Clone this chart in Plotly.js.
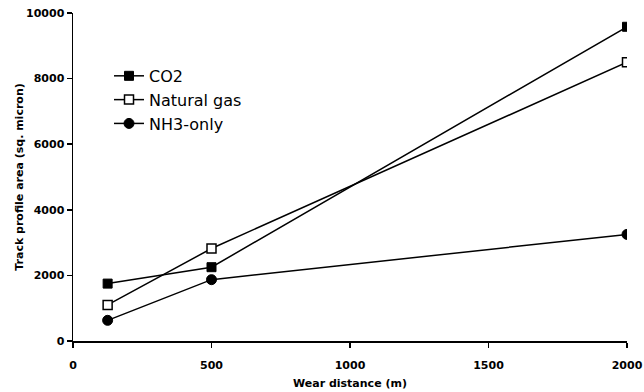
<!DOCTYPE html>
<html>
<head>
<meta charset="utf-8">
<script src="https://cdn.plot.ly/plotly-3.0.1.min.js"></script>
<style>html,body{margin:0;padding:0;background:#fff;}#chart{width:644px;height:392px;}</style>
</head>
<body>
<div id="chart"></div>
<script>
var distance = [125, 500, 2000];
var co2 = [1750, 2250, 9580];
var naturalGas = [1100, 2820, 8500];
var nh3Only = [630, 1870, 3250];
var seriesNames = ["CO2", "Natural gas", "NH3-only"];
var xTicks = [0, 500, 1000, 1500, 2000];
var yTicks = [0, 2000, 4000, 6000, 8000, 10000];

var lineStyle = {color: "#000", width: 1.5};
var traces = [
  {x: distance, y: co2, name: seriesNames[0], mode: "lines+markers", type: "scatter",
   line: lineStyle, marker: {symbol: "square", size: 9, color: "#000", line: {color: "#000", width: 1}}},
  {x: distance, y: naturalGas, name: seriesNames[1], mode: "lines+markers", type: "scatter",
   line: lineStyle, marker: {symbol: "square", size: 9, color: "#fff", line: {color: "#000", width: 1.5}}},
  {x: distance, y: nh3Only, name: seriesNames[2], mode: "lines+markers", type: "scatter",
   line: lineStyle, marker: {symbol: "circle", size: 10, color: "#000", line: {color: "#000", width: 1}}}
];

var fam = "DejaVu Sans, Liberation Sans, Arial, sans-serif";
var tickFont = {family: fam, size: 11, color: "#000", weight: "bold"};
var titleFont = {family: fam, size: 11, color: "#000", weight: "bold"};
var layout = {
  width: 644, height: 392,
  margin: {l: 73, r: 17, t: 13, b: 51},
  paper_bgcolor: "#fff", plot_bgcolor: "#fff",
  showlegend: true,
  legend: {x: 0.065, y: 0.86, xanchor: "left", yanchor: "top", bgcolor: "rgba(0,0,0,0)",
           font: {family: fam, size: 16, color: "#000"},
           itemwidth: 30, tracegroupgap: 0},
  xaxis: {range: [0, 2000], tickvals: xTicks, ticktext: xTicks.map(String), ticks: "outside", ticklen: 5,
          tickcolor: "#000", tickwidth: 1.5, showline: true, linecolor: "#000", linewidth: 1.5,
          showgrid: false, zeroline: false, tickfont: tickFont, ticklabelstandoff: 8,
          title: {text: "Wear distance (m)", standoff: 8, font: titleFont}},
  yaxis: {range: [0, 10000], tickvals: yTicks, ticktext: yTicks.map(String), ticks: "outside", ticklen: 5,
          tickcolor: "#000", tickwidth: 1.5, showline: true, linecolor: "#000", linewidth: 1.5,
          showgrid: false, zeroline: false, tickfont: tickFont,
          title: {text: "Track profile area (sq. micron)", standoff: 0, font: titleFont}}
};
Plotly.newPlot("chart", traces, layout, {displayModeBar: false, staticPlot: true});
</script>
</body>
</html>
